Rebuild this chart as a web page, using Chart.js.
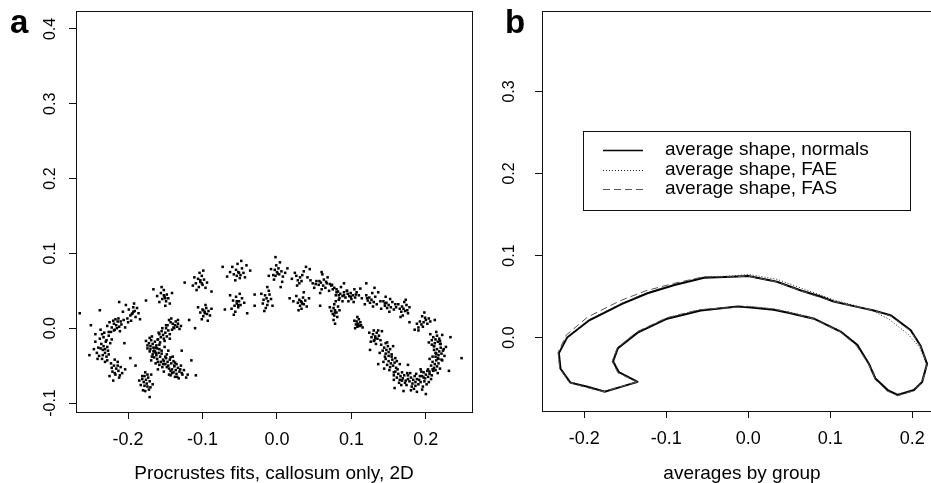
<!DOCTYPE html>
<html>
<head>
<meta charset="utf-8">
<script src="https://cdn.jsdelivr.net/npm/chart.js@4.4.1/dist/chart.umd.min.js"></script>
<style>
    html, body { margin: 0; padding: 0; background: #fff; overflow: hidden; width: 931px; height: 483px; }
    #wrap { position: relative; width: 931px; height: 483px; }
    #chart-a { position: absolute; left: 0; top: 0; }
    #chart-b { position: absolute; left: 476px; top: 0; }
</style>
</head>
<body>
<div id="wrap">
    <canvas id="chart-a" width="476" height="483"></canvas>
    <canvas id="chart-b" width="470" height="483"></canvas>
</div>
<script>
// ---- Panel a: Procrustes fits (landmark clouds) ----
const genuFits = [
    [-0.216,0.004],[-0.219,0.006],[-0.212,0.002],[-0.222,0.001],[-0.214,0.009],[-0.209,0.005],[-0.225,0.008],[-0.218,-0.002],
    [-0.206,0.011],[-0.228,0.003],[-0.213,0.013],[-0.220,0.010],[-0.204,0.001],[-0.211,-0.004],[-0.226,-0.005],[-0.200,0.008],
    [-0.233,-0.012],[-0.230,-0.018],[-0.236,-0.021],[-0.228,-0.025],[-0.234,-0.029],[-0.231,-0.033],[-0.238,-0.014],[-0.226,-0.010],
    [-0.240,-0.026],[-0.229,-0.038],[-0.235,-0.041],[-0.224,-0.020],[-0.242,-0.033],[-0.232,-0.006],[-0.237,-0.002],[-0.227,-0.030],
    [-0.231,-0.045],[-0.244,-0.018],[-0.222,-0.015],[-0.239,-0.037],[-0.233,-0.024],[-0.229,-0.016],
    [-0.216,-0.054],[-0.219,-0.050],[-0.213,-0.057],[-0.221,-0.058],[-0.210,-0.052],[-0.217,-0.062],[-0.223,-0.047],[-0.208,-0.060],
    [-0.214,-0.045],[-0.225,-0.064],[-0.212,-0.066],[-0.220,-0.070],[-0.204,-0.055],[-0.218,-0.042],
    [-0.194,0.020],[-0.191,0.023],[-0.197,0.017],[-0.190,0.015],[-0.199,0.025],[-0.193,0.028],[-0.186,0.020],[-0.201,0.013],
    [-0.196,0.010],[-0.188,0.027],[-0.203,0.031],[-0.184,0.012],[-0.192,0.033],[-0.207,0.022],
    [-0.140,0.006],[-0.137,0.004],[-0.143,0.008],[-0.139,0.001],[-0.134,0.002],[-0.145,0.011],[-0.141,-0.002],[-0.136,0.009],
    [-0.131,-0.001],[-0.147,0.004],[-0.133,0.011],[-0.142,0.013],[-0.129,0.003],[-0.149,0.000],
    [-0.153,-0.009],[-0.150,-0.006],[-0.156,-0.012],[-0.152,-0.014],[-0.155,-0.004],[-0.148,-0.011],[-0.158,-0.008],[-0.151,-0.017],
    [-0.146,-0.003],[-0.160,-0.015],[-0.154,0.000],[-0.144,-0.014],[-0.157,-0.019],
    [-0.167,-0.021],[-0.164,-0.018],[-0.170,-0.024],[-0.166,-0.026],[-0.169,-0.016],[-0.162,-0.023],[-0.172,-0.020],[-0.165,-0.030],
    [-0.160,-0.015],[-0.174,-0.027],[-0.168,-0.011],[-0.158,-0.028],[-0.176,-0.017],[-0.163,-0.033],
    [-0.162,-0.036],[-0.159,-0.033],[-0.165,-0.039],[-0.161,-0.041],[-0.164,-0.031],[-0.157,-0.038],[-0.167,-0.035],[-0.160,-0.045],
    [-0.155,-0.030],[-0.169,-0.043],[-0.163,-0.026],[-0.153,-0.042],[-0.171,-0.031],[-0.158,-0.049],
    [-0.147,-0.045],[-0.144,-0.042],[-0.150,-0.048],[-0.146,-0.050],[-0.149,-0.040],[-0.142,-0.047],[-0.152,-0.044],[-0.145,-0.054],
    [-0.140,-0.038],[-0.154,-0.052],[-0.148,-0.035],[-0.138,-0.050],[-0.143,-0.057],
    [-0.136,-0.056],[-0.133,-0.053],[-0.139,-0.059],[-0.135,-0.061],[-0.138,-0.051],[-0.131,-0.058],[-0.141,-0.055],[-0.134,-0.065],
    [-0.129,-0.050],[-0.143,-0.063],[-0.137,-0.046],[-0.127,-0.062],[-0.132,-0.067],[-0.125,-0.056],
    [-0.176,-0.069],[-0.173,-0.066],[-0.179,-0.072],[-0.175,-0.074],[-0.178,-0.064],[-0.171,-0.071],[-0.181,-0.068],[-0.174,-0.078],
    [-0.169,-0.062],[-0.183,-0.076],[-0.177,-0.059],[-0.167,-0.075],[-0.172,-0.082],[-0.185,-0.070]
];
const upperArcFits = [
    [-0.151,0.042],[-0.148,0.045],[-0.154,0.039],[-0.149,0.036],[-0.156,0.047],[-0.146,0.040],[-0.152,0.051],[-0.158,0.035],
    [-0.144,0.033],[-0.150,0.030],[-0.155,0.055],[-0.161,0.043],[-0.141,0.047],
    [-0.103,0.062],[-0.100,0.058],[-0.106,0.066],[-0.098,0.065],[-0.105,0.055],[-0.109,0.060],[-0.101,0.070],[-0.096,0.054],
    [-0.111,0.068],[-0.104,0.074],[-0.094,0.061],[-0.108,0.051],[-0.099,0.077],[-0.113,0.057],
    [-0.052,0.075],[-0.049,0.071],[-0.055,0.078],[-0.047,0.080],[-0.058,0.072],[-0.050,0.067],[-0.045,0.074],[-0.060,0.082],
    [-0.053,0.086],[-0.043,0.068],[-0.063,0.075],[-0.041,0.084],[-0.056,0.064],[-0.067,0.069],[-0.036,0.077],[-0.048,0.090],
    [0.000,0.075],[0.003,0.072],[-0.003,0.078],[0.002,0.080],[-0.005,0.071],[0.006,0.076],[-0.001,0.084],[0.008,0.069],
    [-0.008,0.079],[0.004,0.088],[-0.004,0.065],[0.011,0.074],[-0.011,0.070],[-0.002,0.095],[0.014,0.080],[0.007,0.062],
    [0.031,0.068],[0.028,0.064],[0.034,0.071],[0.026,0.070],[0.036,0.076],[0.030,0.060],[0.039,0.082],[0.033,0.063],
    [0.024,0.074],[0.041,0.068],[0.027,0.057],[0.044,0.079],[0.020,0.066],
    [0.062,0.057],[0.059,0.061],[0.065,0.054],[0.060,0.052],[0.067,0.060],[0.056,0.058],[0.063,0.065],[0.070,0.050],
    [0.058,0.047],[0.068,0.068],[0.053,0.063],[0.073,0.057],[0.061,0.072],[0.050,0.054],
    [0.085,0.046],[0.082,0.049],[0.088,0.043],[0.080,0.052],[0.090,0.048],[0.084,0.040],[0.077,0.054],[0.092,0.041],
    [0.086,0.055],[0.079,0.044],[0.094,0.050],[0.074,0.058],[0.088,0.036],
    [0.102,0.044],[0.099,0.047],[0.105,0.041],[0.100,0.039],[0.107,0.048],[0.097,0.043],[0.104,0.052],[0.110,0.044],
    [0.096,0.036],[0.103,0.035],[0.112,0.053],[0.094,0.050],
    [0.127,0.038],[0.124,0.041],[0.130,0.035],[0.125,0.034],[0.132,0.042],[0.122,0.037],[0.128,0.047],[0.134,0.032],
    [0.120,0.044],[0.129,0.029],[0.136,0.048],[0.118,0.032],[0.131,0.054],
    [0.150,0.031],[0.147,0.034],[0.153,0.028],[0.148,0.027],[0.155,0.035],[0.145,0.030],[0.152,0.039],[0.157,0.025],
    [0.143,0.036],[0.151,0.022],[0.159,0.032],[0.146,0.042],[0.140,0.026],
    [0.170,0.026],[0.168,0.029],[0.172,0.023],[0.167,0.022],[0.174,0.031],[0.165,0.026],[0.171,0.035],[0.176,0.020],
    [0.169,0.017],[0.163,0.032],[0.178,0.028],[0.173,0.038],[0.166,0.015],
    [0.197,0.008],[0.194,0.005],[0.200,0.011],[0.196,0.002],[0.199,0.014],[0.192,0.009],[0.202,0.006],[0.190,0.001],
    [0.204,0.013],[0.195,0.016],[0.188,0.006],[0.206,0.009],[0.198,0.021],[0.185,-0.002]
];
const lowerArcFits = [
    [-0.097,0.022],[-0.094,0.019],[-0.100,0.025],[-0.095,0.027],[-0.099,0.016],[-0.092,0.023],[-0.103,0.021],[-0.096,0.031],
    [-0.090,0.017],[-0.101,0.012],[-0.106,0.028],[-0.093,0.010],[-0.088,0.026],
    [-0.054,0.033],[-0.051,0.036],[-0.057,0.030],[-0.052,0.028],[-0.059,0.037],[-0.049,0.031],[-0.055,0.042],[-0.061,0.026],
    [-0.047,0.040],[-0.056,0.022],[-0.044,0.034],[-0.063,0.044],[-0.050,0.046],[-0.058,0.018],
    [-0.014,0.040],[-0.012,0.036],[-0.016,0.044],[-0.013,0.031],[-0.018,0.038],[-0.010,0.045],[-0.015,0.027],[-0.011,0.050],
    [-0.019,0.033],[-0.008,0.039],[-0.017,0.023],[-0.013,0.055],[-0.021,0.046],[-0.006,0.030],
    [0.033,0.035],[0.030,0.038],[0.036,0.032],[0.031,0.030],[0.035,0.041],[0.028,0.034],[0.038,0.037],[0.033,0.026],
    [0.026,0.043],[0.040,0.029],[0.029,0.024],[0.043,0.040],[0.022,0.036],[0.036,0.048],
    [0.078,0.024],[0.076,0.027],[0.080,0.021],[0.075,0.019],[0.082,0.029],[0.077,0.032],[0.073,0.023],[0.081,0.015],
    [0.079,0.036],[0.071,0.028],[0.084,0.024],[0.076,0.011],[0.083,0.038],[0.078,0.006],
    [0.109,0.006],[0.107,0.009],[0.111,0.003],[0.108,0.002],[0.112,0.008],[0.106,0.005],[0.110,0.012],[0.105,0.000],
    [0.113,0.004],[0.108,0.015],[0.104,0.010],[0.115,0.001],
    [0.132,-0.011],[0.129,-0.008],[0.135,-0.014],[0.131,-0.016],[0.134,-0.006],[0.127,-0.012],[0.137,-0.010],[0.130,-0.003],
    [0.126,-0.018],[0.139,-0.016],[0.133,-0.021],[0.124,-0.006],[0.141,-0.004]
];
const spleniumFits = [
    [0.147,-0.029],[0.144,-0.026],[0.150,-0.032],[0.146,-0.034],[0.149,-0.024],[0.142,-0.030],[0.152,-0.028],[0.145,-0.038],
    [0.140,-0.022],[0.154,-0.035],[0.148,-0.019],[0.138,-0.033],[0.156,-0.024],
    [0.153,-0.047],[0.150,-0.044],[0.156,-0.050],[0.152,-0.052],[0.155,-0.042],[0.148,-0.049],[0.158,-0.046],[0.151,-0.056],
    [0.146,-0.041],[0.160,-0.053],[0.154,-0.038],[0.144,-0.054],[0.161,-0.044],[0.157,-0.059],
    [0.166,-0.064],[0.163,-0.061],[0.169,-0.067],[0.165,-0.069],[0.168,-0.059],[0.161,-0.066],[0.171,-0.063],[0.164,-0.073],
    [0.159,-0.058],[0.173,-0.070],[0.167,-0.076],[0.157,-0.069],[0.175,-0.060],
    [0.183,-0.069],[0.180,-0.066],[0.186,-0.072],[0.182,-0.074],[0.185,-0.064],[0.178,-0.071],[0.188,-0.068],[0.181,-0.078],
    [0.176,-0.063],[0.190,-0.075],[0.184,-0.081],[0.174,-0.076],[0.192,-0.064],[0.179,-0.060],
    [0.200,-0.062],[0.197,-0.059],[0.203,-0.065],[0.199,-0.067],[0.202,-0.057],[0.195,-0.064],[0.205,-0.061],[0.198,-0.071],
    [0.193,-0.055],[0.207,-0.068],[0.201,-0.075],[0.191,-0.069],[0.209,-0.055],[0.196,-0.078],
    [0.212,-0.048],[0.209,-0.045],[0.215,-0.051],[0.211,-0.053],[0.214,-0.043],[0.207,-0.050],[0.217,-0.047],[0.210,-0.057],
    [0.205,-0.041],[0.219,-0.054],[0.213,-0.038],[0.203,-0.055],[0.221,-0.042],[0.216,-0.060],
    [0.218,-0.031],[0.215,-0.028],[0.221,-0.034],[0.217,-0.036],[0.220,-0.026],[0.213,-0.033],[0.223,-0.030],[0.216,-0.040],
    [0.211,-0.024],[0.225,-0.037],[0.219,-0.021],[0.209,-0.038],[0.227,-0.025],[0.222,-0.043],
    [0.213,-0.015],[0.210,-0.012],[0.216,-0.018],[0.212,-0.020],[0.215,-0.010],[0.208,-0.016],[0.218,-0.014],[0.211,-0.024],
    [0.206,-0.008],[0.220,-0.021],[0.214,-0.005],[0.204,-0.019],[0.222,-0.009]
];
const coreFits = [
    [-0.158,-0.022],[-0.161,-0.027],[-0.155,-0.034],[-0.150,-0.038],[-0.166,-0.031],[-0.170,-0.028],[-0.151,-0.025],[-0.146,-0.030],
    [-0.143,-0.039],[-0.139,-0.044],[-0.135,-0.048],[-0.148,-0.052],[-0.141,-0.060],[-0.130,-0.055],[-0.156,-0.045],[-0.163,-0.047],
    [-0.159,-0.006],[-0.149,0.004],[-0.144,-0.008],[-0.138,0.000],[-0.133,0.006],[-0.171,-0.013],[-0.174,-0.023],[-0.168,-0.038],
    [-0.152,-0.058],[-0.145,-0.062],[-0.137,-0.065],[-0.128,-0.060],[-0.122,-0.066],[-0.178,-0.077],[-0.174,-0.062],[-0.181,-0.064],
    [-0.170,-0.079],[-0.177,-0.084],[-0.160,-0.055],[-0.153,-0.048],
    [-0.235,-0.008],[-0.237,-0.027],[-0.231,-0.028],[-0.226,-0.035],[-0.234,-0.036],[-0.241,-0.041],[-0.228,-0.043],[-0.223,-0.005],
    [-0.219,-0.003],[-0.215,0.000],[-0.217,0.012],[-0.210,0.009],[-0.218,-0.060],[-0.214,-0.050],[-0.222,-0.053],[-0.211,-0.063],
    [-0.244,-0.008],[-0.246,-0.028],
    [0.162,-0.055],[0.168,-0.070],[0.176,-0.068],[0.186,-0.077],[0.193,-0.072],[0.197,-0.066],[0.205,-0.058],[0.208,-0.063],
    [0.213,-0.056],[0.217,-0.041],[0.214,-0.034],[0.211,-0.029],[0.219,-0.017],[0.224,-0.028],[0.208,-0.022],[0.159,-0.040],
    [0.150,-0.037],[0.157,-0.063],[0.172,-0.073],[0.180,-0.083],[0.195,-0.082],[0.204,-0.072],[0.187,-0.061],[0.194,-0.058],
    [0.143,-0.045],[0.146,-0.020],[0.130,-0.017],[0.136,-0.003],
    [0.066,0.062],[0.071,0.059],[0.075,0.052],[0.080,0.048],[0.083,0.044],[0.090,0.044],[0.095,0.046],[0.099,0.042],
    [0.106,0.045],[0.057,0.063],[0.052,0.059],[0.045,0.064],[0.114,0.040],[0.121,0.040],[0.139,0.036],[0.145,0.033],
    [0.160,0.028],[0.175,0.024],
    [-0.103,0.064],[-0.101,0.060],[-0.097,0.020],[-0.099,0.024],[-0.054,0.036],[-0.052,0.031],[-0.051,0.074],[-0.054,0.070],
    [0.001,0.073],[-0.002,0.070],[0.032,0.036],[0.034,0.033],[-0.152,0.044],[-0.150,0.040],[-0.193,0.022],[-0.195,0.019],
    [0.109,0.004],[0.132,-0.013],[0.078,0.021],[0.077,0.017]
];
const strayFits = [
    [0.248,-0.040],[0.233,-0.012],[0.231,-0.057],[0.188,-0.085],[0.170,-0.084],[0.200,-0.088],[0.158,-0.080],[0.190,-0.003],
    [0.178,0.008],[0.212,0.011],[0.136,-0.048],[0.125,-0.029],[0.165,-0.048],[0.176,-0.049],
    [-0.250,0.004],[-0.238,0.024],[-0.252,-0.036],[-0.171,-0.092],[-0.180,-0.083],[-0.115,-0.043],[-0.109,-0.063],[-0.120,-0.062],
    [-0.176,0.037],[-0.118,0.011],[-0.205,-0.020],[-0.190,-0.050],[-0.128,-0.030],[-0.197,-0.040],[-0.212,0.035],[-0.166,0.052],
    [-0.124,0.061],[-0.088,0.049],[-0.073,0.082],[-0.110,0.000],[-0.070,0.025],[-0.030,0.045],[-0.030,0.030],[0.017,0.040],
    [-0.040,0.020],[0.048,0.060],[0.058,0.030],[0.005,0.055],[0.060,0.075],[0.090,0.060],[0.120,0.060],[-0.265,0.020]
];

// ---- Panel b: average outlines per group (closed polygons) ----
const normalsShape = [
    [-0.135,-0.054],[-0.175,-0.066],[-0.196,-0.060],[-0.217,-0.055],[-0.229,-0.038],[-0.231,-0.019],[-0.221,0.000],[-0.194,0.021],
    [-0.154,0.041],[-0.123,0.054],[-0.090,0.064],[-0.054,0.073],[-0.020,0.074],[0.000,0.075],[0.035,0.068],[0.065,0.057],
    [0.088,0.050],[0.104,0.044],[0.130,0.038],[0.153,0.033],[0.174,0.027],[0.198,0.009],[0.210,-0.010],[0.218,-0.032],
    [0.212,-0.054],[0.202,-0.064],[0.182,-0.070],[0.170,-0.064],[0.155,-0.050],[0.147,-0.032],[0.133,-0.009],[0.113,0.007],
    [0.080,0.023],[0.050,0.030],[0.031,0.034],[0.000,0.037],[-0.013,0.038],[-0.058,0.033],[-0.099,0.023],[-0.135,0.006],
    [-0.159,-0.013],[-0.165,-0.029],[-0.158,-0.042],[-0.135,-0.054]
];
const faeShape = [
    [-0.134,-0.054],[-0.175,-0.065],[-0.197,-0.060],[-0.217,-0.054],[-0.230,-0.037],[-0.231,-0.018],[-0.221,0.001],[-0.194,0.022],
    [-0.154,0.042],[-0.123,0.055],[-0.090,0.065],[-0.054,0.074],[-0.020,0.075],[0.000,0.077],[0.035,0.071],[0.065,0.060],
    [0.088,0.052],[0.104,0.046],[0.130,0.039],[0.153,0.032],[0.172,0.022],[0.195,0.004],[0.209,-0.012],[0.217,-0.032],
    [0.212,-0.053],[0.202,-0.064],[0.182,-0.069],[0.170,-0.064],[0.156,-0.050],[0.147,-0.031],[0.133,-0.008],[0.113,0.008],
    [0.080,0.024],[0.050,0.031],[0.031,0.035],[0.000,0.038],[-0.013,0.038],[-0.058,0.034],[-0.099,0.024],[-0.135,0.006],
    [-0.159,-0.012],[-0.164,-0.029],[-0.157,-0.042],[-0.134,-0.054]
];
const fasShape = [
    [-0.136,-0.054],[-0.176,-0.066],[-0.197,-0.061],[-0.218,-0.055],[-0.230,-0.038],[-0.232,-0.018],[-0.222,0.003],[-0.196,0.025],
    [-0.156,0.045],[-0.125,0.057],[-0.091,0.066],[-0.055,0.074],[-0.021,0.074],[-0.001,0.075],[0.034,0.068],[0.064,0.057],
    [0.087,0.049],[0.104,0.044],[0.130,0.038],[0.153,0.033],[0.174,0.026],[0.198,0.008],[0.210,-0.011],[0.218,-0.033],
    [0.212,-0.055],[0.201,-0.065],[0.182,-0.071],[0.169,-0.065],[0.155,-0.051],[0.147,-0.033],[0.132,-0.010],[0.112,0.007],
    [0.079,0.023],[0.049,0.031],[0.030,0.035],[-0.001,0.038],[-0.015,0.037],[-0.060,0.034],[-0.100,0.024],[-0.136,0.007],
    [-0.160,-0.013],[-0.166,-0.029],[-0.159,-0.043],[-0.136,-0.054]
];
const groupLabels = ['average shape, normals', 'average shape, FAE', 'average shape, FAS'];

// ---- Ticks and titles ----
const xTicks = [-0.2, -0.1, 0.0, 0.1, 0.2];
const yTicksA = [-0.1, 0.0, 0.1, 0.2, 0.3, 0.4];
const yTicksB = [0.0, 0.1, 0.2, 0.3];
const xTitleA = 'Procrustes fits, callosum only, 2D';
const xTitleB = 'averages by group';

Chart.defaults.font.family = '"Liberation Sans", Arial, Helvetica, sans-serif';
Chart.defaults.color = '#000';

const toXY = arr => arr.map(p => ({ x: p[0], y: p[1] }));

// Caixa em volta da área do gráfico (como o box() do R)
const boxPlugin = {
    id: 'plotBox',
    afterDraw(chart) {
        const { ctx, chartArea: a } = chart;
        ctx.save();
        ctx.strokeStyle = '#111';
        ctx.lineWidth = 1;
        ctx.strokeRect(Math.round(a.left) + 0.5, Math.round(a.top) + 0.5, Math.round(a.right - a.left), Math.round(a.bottom - a.top));
        ctx.restore();
    }
};

// Letra do painel (a / b)
const letterPlugin = {
    id: 'panelLetter',
    afterDraw(chart, args, opts) {
        if (!opts.text) return;
        const ctx = chart.ctx;
        ctx.save();
        ctx.font = 'bold 33px "Liberation Sans", Arial, sans-serif';
        ctx.fillStyle = '#000';
        ctx.textBaseline = 'alphabetic';
        ctx.fillText(opts.text, opts.x, opts.y);
        ctx.restore();
    }
};

// Legenda dentro do gráfico, com moldura
const boxedLegend = {
    id: 'boxedLegend',
    afterDraw(chart, args, opts) {
        if (!opts.display) return;
        const ctx = chart.ctx;
        ctx.save();
        ctx.strokeStyle = '#111';
        ctx.lineWidth = 1;
        ctx.strokeRect(opts.left + 0.5, opts.top + 0.5, opts.width, opts.height);
        ctx.font = '19px "Liberation Sans", Arial, sans-serif';
        ctx.textBaseline = 'middle';
        chart.data.datasets.forEach((ds, i) => {
            const y = opts.firstRow + i * opts.rowGap;
            ctx.strokeStyle = ds.borderColor;
            ctx.lineWidth = ds.legendLineWidth || ds.borderWidth;
            ctx.setLineDash(ds.borderDash || []);
            ctx.beginPath();
            ctx.moveTo(opts.sampleX0, Math.round(y) + 0.5);
            ctx.lineTo(opts.sampleX1, Math.round(y) + 0.5);
            ctx.stroke();
            ctx.setLineDash([]);
            ctx.fillStyle = '#000';
            ctx.fillText(ds.label, opts.textX, y);
        });
        ctx.restore();
    }
};

// zera o padding que o Chart.js reserva para metade dos rótulos
function noLabelPadding(s) {
    s.paddingTop = 0;
    s.paddingBottom = 0;
    s.paddingLeft = 0;
    s.paddingRight = 0;
}

function buildScales(cfg) {
    return {
        x: {
            type: 'linear',
            min: cfg.xMin, max: cfg.xMax,
            afterBuildTicks: s => { s.ticks = xTicks.map(v => ({ value: v })); },
            afterFit: s => { s.height = cfg.xAxisHeight; noLabelPadding(s); },
            grid: { drawOnChartArea: false, drawTicks: true, tickLength: 7, color: '#111', lineWidth: 1 },
            border: { display: true, color: '#111', width: 1 },
            ticks: {
                autoSkip: false, maxRotation: 0, padding: 10,
                font: { size: 18 }, color: '#000',
                callback: v => Number(v).toFixed(1)
            },
            title: {
                display: true, text: cfg.xTitle, color: '#000',
                font: { size: 19, lineHeight: 1.0 }, padding: { top: 0, bottom: 0 }
            }
        },
        y: {
            type: 'linear',
            min: cfg.yMin, max: cfg.yMax,
            afterBuildTicks: s => { s.ticks = cfg.yTicks.map(v => ({ value: v })); },
            afterFit: s => { s.width = cfg.yAxisWidth; noLabelPadding(s); },
            grid: { drawOnChartArea: false, drawTicks: true, tickLength: 7, color: '#111', lineWidth: 1 },
            border: { display: true, color: '#111', width: 1 },
            ticks: {
                autoSkip: false, minRotation: 90, maxRotation: 90, crossAlign: 'center',
                padding: cfg.yPad, font: { size: 16 }, color: '#000',
                callback: v => Number(v).toFixed(1)
            }
        }
    };
}

// Painel a
new Chart(document.getElementById('chart-a'), {
    type: 'scatter',
    data: {
        datasets: [{
            label: 'Procrustes fits',
            data: toXY([...genuFits, ...upperArcFits, ...lowerArcFits, ...spleniumFits, ...coreFits, ...strayFits]),
            pointStyle: 'rect',
            pointRadius: 1.8,
            pointBorderWidth: 0,
            backgroundColor: '#000',
            borderColor: '#000'
        }]
    },
    options: {
        responsive: false,
        animation: false,
        devicePixelRatio: 1,
        layout: { padding: { left: 0, top: 11, right: 4, bottom: 0 } },
        plugins: {
            legend: { display: false },
            tooltip: { enabled: false },
            panelLetter: { text: 'a', x: 10, y: 33 },
            boxedLegend: { display: false }
        },
        events: [],
        scales: buildScales({
            xMin: -0.270, xMax: 0.262, yMin: -0.112, yMax: 0.424,
            yTicks: yTicksA, xTitle: xTitleA,
            xAxisHeight: 71, yAxisWidth: 76, yPad: 5
        })
    },
    plugins: [boxPlugin, letterPlugin, boxedLegend]
});

// Painel b
new Chart(document.getElementById('chart-b'), {
    type: 'scatter',
    data: {
        datasets: [
            {
                label: groupLabels[0], data: toXY(normalsShape), showLine: true,
                borderColor: '#000', borderWidth: 2, legendLineWidth: 1.5, pointRadius: 0, order: 3
            },
            {
                label: groupLabels[1], data: toXY(faeShape), showLine: true,
                borderColor: '#222', borderWidth: 1, borderDash: [1, 2], pointRadius: 0, order: 2
            },
            {
                label: groupLabels[2], data: toXY(fasShape), showLine: true,
                borderColor: '#555', borderWidth: 1, borderDash: [7, 4], pointRadius: 0, order: 1
            }
        ]
    },
    options: {
        responsive: false,
        animation: false,
        devicePixelRatio: 1,
        layout: { padding: { left: 0, top: 11, right: 4, bottom: 0 } },
        plugins: {
            legend: { display: false },
            tooltip: { enabled: false },
            panelLetter: { text: 'b', x: 29, y: 33 },
            boxedLegend: {
                display: true, left: 107, top: 131, width: 327, height: 79,
                firstRow: 150, rowGap: 19.6, sampleX0: 127, sampleX1: 167, textX: 189
            }
        },
        events: [],
        scales: buildScales({
            xMin: -0.2516, xMax: 0.2362, yMin: -0.0895, yMax: 0.398,
            yTicks: yTicksB, xTitle: xTitleB,
            xAxisHeight: 72, yAxisWidth: 66, yPad: 14
        })
    },
    plugins: [boxPlugin, letterPlugin, boxedLegend]
});
</script>
</body>
</html>
